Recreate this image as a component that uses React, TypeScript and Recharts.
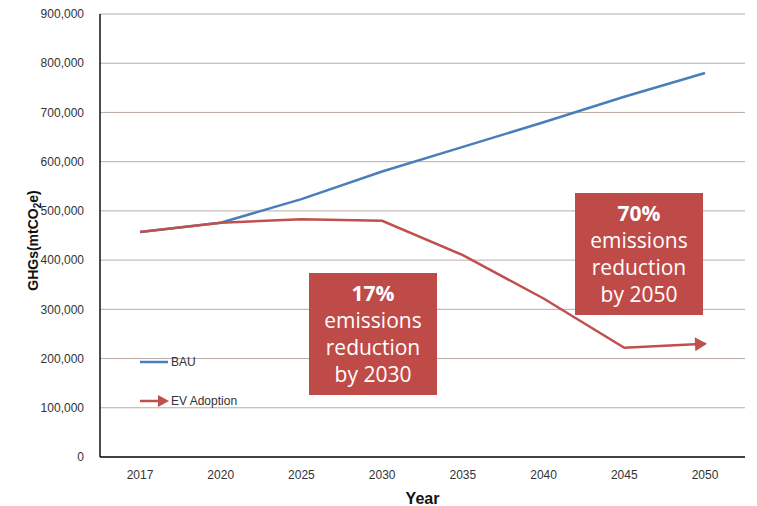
import { LineChart, Line, XAxis, YAxis, CartesianGrid, Label } from 'recharts';

const years = ['2017', '2020', '2025', '2030', '2035', '2040', '2045', '2050'];
const bau = [457000, 476000, 524000, 580000, 630000, 680000, 732000, 780000];
const evAdoption = [457000, 476000, 483000, 480000, 410000, 322000, 222000, 230000];
const yTicks = [0, 100000, 200000, 300000, 400000, 500000, 600000, 700000, 800000, 900000];

const BLUE = '#4a7ebb';
const RED = '#c0504d';
const BOX = '#bf4b48';
const FONT = '"Liberation Sans", "DejaVu Sans", sans-serif';

const data = years.map((year, i) => ({ year, bau: bau[i], ev: evAdoption[i] }));

const ArrowDot = (props: any) => {
  const { cx, cy, index } = props;
  if (index !== years.length - 1 || cx == null) return <g key={`d-${index}`} />;
  return (
    <polygon
      key={`d-${index}`}
      points={`${cx + 2},${cy} ${cx - 10},${cy - 7} ${cx - 10},${cy + 7}`}
      fill={RED}
      transform={`rotate(-3 ${cx} ${cy})`}
    />
  );
};

// legend sits inside the plot, bottom left
const LegendBox = () => (
  <div style={{ position: 'absolute', left: 140, top: 352, fontFamily: FONT, fontSize: 12, color: '#333' }}>
    <div style={{ display: 'flex', alignItems: 'center', height: 20 }}>
      <svg width={30} height={10}>
        <line x1={0} y1={5} x2={28} y2={5} stroke={BLUE} strokeWidth={2.5} />
      </svg>
      <span style={{ marginLeft: 1 }}>BAU</span>
    </div>
    <div style={{ display: 'flex', alignItems: 'center', height: 20, marginTop: 19 }}>
      <svg width={30} height={14}>
        <line x1={0} y1={7} x2={20} y2={7} stroke={RED} strokeWidth={2.5} />
        <polygon points="29,7 18,1 18,13" fill={RED} />
      </svg>
      <span style={{ marginLeft: 1 }}>EV Adoption</span>
    </div>
  </div>
);

const YLabel = (props: any) => {
  const { viewBox } = props;
  const cx = 33;
  const cy = viewBox.y + viewBox.height / 2 + 5;
  return (
    <text
      x={cx}
      y={cy}
      transform={`rotate(-90 ${cx} ${cy})`}
      textAnchor="middle"
      dominantBaseline="central"
      fontFamily={FONT}
      fontWeight="bold"
      fontSize={14}
      fill="#111"
    >
      GHGs(mtCO<tspan fontSize={10} dy={4}>2</tspan>
      <tspan dy={-4}>e)</tspan>
    </text>
  );
};

const boxStyle = (left: number, top: number): React.CSSProperties => ({
  position: 'absolute',
  left,
  top,
  width: 128,
  height: 122,
  background: BOX,
  color: '#fff',
  fontFamily: '"Open Sans", "Noto Sans", sans-serif',
  fontSize: 21,
  lineHeight: '27px',
  textAlign: 'center',
  display: 'flex',
  flexDirection: 'column',
  justifyContent: 'center',
});

export default function App() {
  return (
    <div style={{ position: 'absolute', left: 0, top: 0, width: 757, height: 506, background: '#fff' }}>
      <LineChart width={757} height={506} data={data} margin={{ top: 14, right: 12, bottom: 0, left: 0 }}>
        <CartesianGrid horizontal vertical={false} stroke="#b9aca3" strokeWidth={1} />
        <XAxis
          dataKey="year"
          padding={{ left: 40, right: 40 }}
          axisLine={{ stroke: '#111', strokeWidth: 1.5 }}
          tickLine={false}
          tickMargin={7}
          height={49}
          tick={{ fill: '#333', fontSize: 12, fontFamily: FONT }}
          interval={0}
        >
          <Label
            value="Year"
            position="insideBottom"
            offset={2}
            style={{ fontFamily: FONT, fontWeight: 'bold', fontSize: 16, fill: '#111' }}
          />
        </XAxis>
        <YAxis
          domain={[0, 900000]}
          ticks={yTicks}
          width={100}
          axisLine={{ stroke: '#111', strokeWidth: 1.5 }}
          tickLine={false}
          tickMargin={10}
          tick={{ fill: '#333', fontSize: 12, fontFamily: FONT }}
          tickFormatter={(v: number) => v.toLocaleString('en-US')}
        >
          <Label content={<YLabel />} />
        </YAxis>
        <Line
          type="linear"
          dataKey="bau"
          name="BAU"
          stroke={BLUE}
          strokeWidth={2.5}
          dot={false}
          isAnimationActive={false}
        />
        <Line
          type="linear"
          dataKey="ev"
          name="EV Adoption"
          stroke={RED}
          strokeWidth={2.5}
          dot={<ArrowDot />}
          activeDot={false}
          isAnimationActive={false}
        />
      </LineChart>
      <LegendBox />
      <div style={boxStyle(309, 273)}>
        <div style={{ fontWeight: 'bold' }}>17%</div>
        <div>emissions</div>
        <div>reduction</div>
        <div>by 2030</div>
      </div>
      <div style={boxStyle(575, 193)}>
        <div style={{ fontWeight: 'bold' }}>70%</div>
        <div>emissions</div>
        <div>reduction</div>
        <div>by 2050</div>
      </div>
    </div>
  );
}
